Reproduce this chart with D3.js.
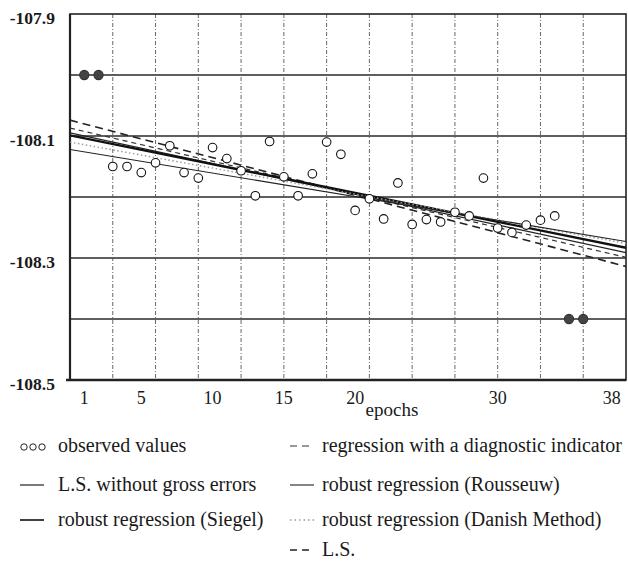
<!DOCTYPE html>
<html>
<head>
<meta charset="utf-8">
<script src="https://cdn.jsdelivr.net/npm/d3@7"></script>
<style>
  html, body { margin: 0; padding: 0; background: #fff; }
  svg { display: block; }
  svg text { font-family: "Liberation Serif", "Times New Roman", Times, serif; }
</style>
</head>
<body>
<svg id="chart" width="628" height="564"></svg>
<script>
// Observation epochs and observed heights
const epochs = [1, 2, 3, 4, 5, 6, 7, 8, 9, 10, 11, 12, 13, 14, 15, 16, 17, 18,
                19, 20, 21, 22, 23, 24, 25, 26, 27, 28, 29, 30, 31, 32, 33, 34, 35, 36];
const observed = [-108.000, -108.000, -108.150, -108.150, -108.160, -108.144, -108.116, -108.160,
                  -108.169, -108.119, -108.137, -108.157, -108.198, -108.109, -108.167, -108.198,
                  -108.162, -108.110, -108.130, -108.222, -108.203, -108.236, -108.177, -108.245,
                  -108.237, -108.241, -108.225, -108.231, -108.169, -108.251, -108.258, -108.246,
                  -108.238, -108.231, -108.400, -108.400];
// Epochs carrying gross errors (drawn as filled dots)
const grossEpochs = [1, 2, 35, 36];

// Fitted regression lines: value = intercept + slope * epoch
const lineNames = ["L.S.", "regression with a diagnostic indicator", "L.S. without gross errors",
                   "robust regression (Siegel)", "robust regression (Danish Method)",
                   "robust regression (Rousseuw)"];
const lineIntercepts = [-108.074, -108.087, -108.095, -108.099, -108.110, -108.122];
const lineSlopes = [-0.00615, -0.005433, -0.005028, -0.004721, -0.004259, -0.003869];

// Axis ticks
const xTickLabels = [1, 5, 10, 15, 20, 30, 38];
const xGridEpochs = [3, 6, 9, 12, 15, 18, 21, 24, 27, 30, 33, 36];
const yTickLabels = [-107.9, -108.1, -108.3, -108.5];
const yGridValues = [-108.0, -108.1, -108.2, -108.3, -108.4];

// Line styles for each fitted line (same order as lineNames)
const lineStyles = [
  { dash: "8,5", width: 1.6, color: "#222" },
  { dash: "5,4", width: 1.2, color: "#333" },
  { dash: null, width: 1.2, color: "#222" },
  { dash: null, width: 2.4, color: "#111" },
  { dash: "1.5,2.5", width: 1.4, color: "#999" },
  { dash: null, width: 1.1, color: "#222" }
];

const svg = d3.select("#chart");
const plot = { left: 70, right: 626, top: 14, bottom: 380 };

const x = d3.scaleLinear().domain([0, 39]).range([plot.left, plot.right]);
const y = d3.scaleLinear().domain([-107.9, -108.5]).range([plot.top, plot.bottom]);

// Horizontal gridlines
svg.append("g").selectAll("line").data(yGridValues).join("line")
  .attr("x1", plot.left).attr("x2", plot.right)
  .attr("y1", d => y(d)).attr("y2", d => y(d))
  .attr("stroke", "#2a2a2a").attr("stroke-width", 1.3);

// Vertical gridlines (dashed)
svg.append("g").selectAll("line").data(xGridEpochs).join("line")
  .attr("x1", d => x(d)).attr("x2", d => x(d))
  .attr("y1", plot.top).attr("y2", plot.bottom)
  .attr("stroke", "#555").attr("stroke-width", 0.9)
  .attr("stroke-dasharray", "4,2,1,2");

// Frame
svg.append("rect")
  .attr("x", plot.left).attr("y", plot.top)
  .attr("width", plot.right - plot.left).attr("height", plot.bottom - plot.top)
  .attr("fill", "none").attr("stroke", "#222").attr("stroke-width", 1.6);

// Left and bottom axes (heavier)
svg.append("line").attr("x1", plot.left).attr("x2", plot.left)
  .attr("y1", plot.top).attr("y2", plot.bottom + 1)
  .attr("stroke", "#222").attr("stroke-width", 2.2);
svg.append("line").attr("x1", plot.left - 4).attr("x2", plot.right)
  .attr("y1", plot.bottom).attr("y2", plot.bottom)
  .attr("stroke", "#222").attr("stroke-width", 2.6);

// Regression lines spanning the plot width
const lineGen = d3.line().x(d => x(d[0])).y(d => y(d[1]));
const xDom = x.domain();
svg.append("clipPath").attr("id", "plotclip").append("rect")
  .attr("x", plot.left).attr("y", plot.top)
  .attr("width", plot.right - plot.left).attr("height", plot.bottom - plot.top);
const linesG = svg.append("g").attr("clip-path", "url(#plotclip)");
lineNames.forEach((name, i) => {
  const pts = xDom.map(e => [e, lineIntercepts[i] + lineSlopes[i] * e]);
  linesG.append("path")
    .attr("d", lineGen(pts))
    .attr("fill", "none")
    .attr("stroke", lineStyles[i].color)
    .attr("stroke-width", lineStyles[i].width)
    .attr("stroke-dasharray", lineStyles[i].dash);
});

// Observations
const obs = epochs.map((e, i) => ({ e, v: observed[i], gross: grossEpochs.includes(e) }));
svg.append("g").selectAll("circle").data(obs).join("circle")
  .attr("cx", d => x(d.e)).attr("cy", d => y(d.v))
  .attr("r", d => d.gross ? 4.6 : 4.3)
  .attr("fill", d => d.gross ? "#444" : "#fff")
  .attr("stroke", d => d.gross ? "#333" : "#111")
  .attr("stroke-width", 1.1);

// Y tick labels
svg.append("g").selectAll("text").data(yTickLabels).join("text")
  .attr("x", 55).attr("y", d => y(d) + 10)
  .attr("text-anchor", "end")
  .attr("font-size", 17.5).attr("font-weight", "bold").attr("fill", "#1a1a1a")
  .text(d => d.toFixed(1));

// X tick labels
svg.append("g").selectAll("text").data(xTickLabels).join("text")
  .attr("x", d => x(d)).attr("y", 404)
  .attr("text-anchor", "middle")
  .attr("font-size", 18).attr("fill", "#1a1a1a")
  .text(d => d);

svg.append("text").attr("x", 392).attr("y", 416)
  .attr("text-anchor", "middle").attr("font-size", 19).attr("fill", "#1a1a1a")
  .text("epochs");

// Legend
const legend = svg.append("g").attr("font-size", 20).attr("fill", "#1a1a1a");
const col1 = 20, col2 = 290, textOff1 = 38, textOff2 = 32;
const rows = [452, 491, 526, 556];

// observed values: three small circles
legend.append("g").selectAll("circle").data([0, 1, 2]).join("circle")
  .attr("cx", d => col1 + 4 + d * 9).attr("cy", rows[0] - 5).attr("r", 3.2)
  .attr("fill", "none").attr("stroke", "#222").attr("stroke-width", 1);
legend.append("text").attr("x", col1 + textOff1).attr("y", rows[0]).text("observed values");

const legendItems = [
  { idx: 1, x: col2, row: 0, dx: textOff2 },
  { idx: 2, x: col1, row: 1, dx: textOff1 },
  { idx: 5, x: col2, row: 1, dx: textOff2 },
  { idx: 3, x: col1, row: 2, dx: textOff1 },
  { idx: 4, x: col2, row: 2, dx: textOff2 },
  { idx: 0, x: col2, row: 3, dx: textOff2 }
];
legendItems.forEach(it => {
  const st = lineStyles[it.idx];
  legend.append("line")
    .attr("x1", it.x).attr("x2", it.x + 24)
    .attr("y1", rows[it.row] - 6).attr("y2", rows[it.row] - 6)
    .attr("stroke", st.color)
    .attr("stroke-width", Math.min(st.width, 1.6))
    .attr("stroke-dasharray", st.dash ? (st.dash === "1.5,2.5" ? "1.5,3" : "7,5") : null);
  legend.append("text").attr("x", it.x + it.dx).attr("y", rows[it.row])
    .text(lineNames[it.idx]);
});
</script>
</body>
</html>
